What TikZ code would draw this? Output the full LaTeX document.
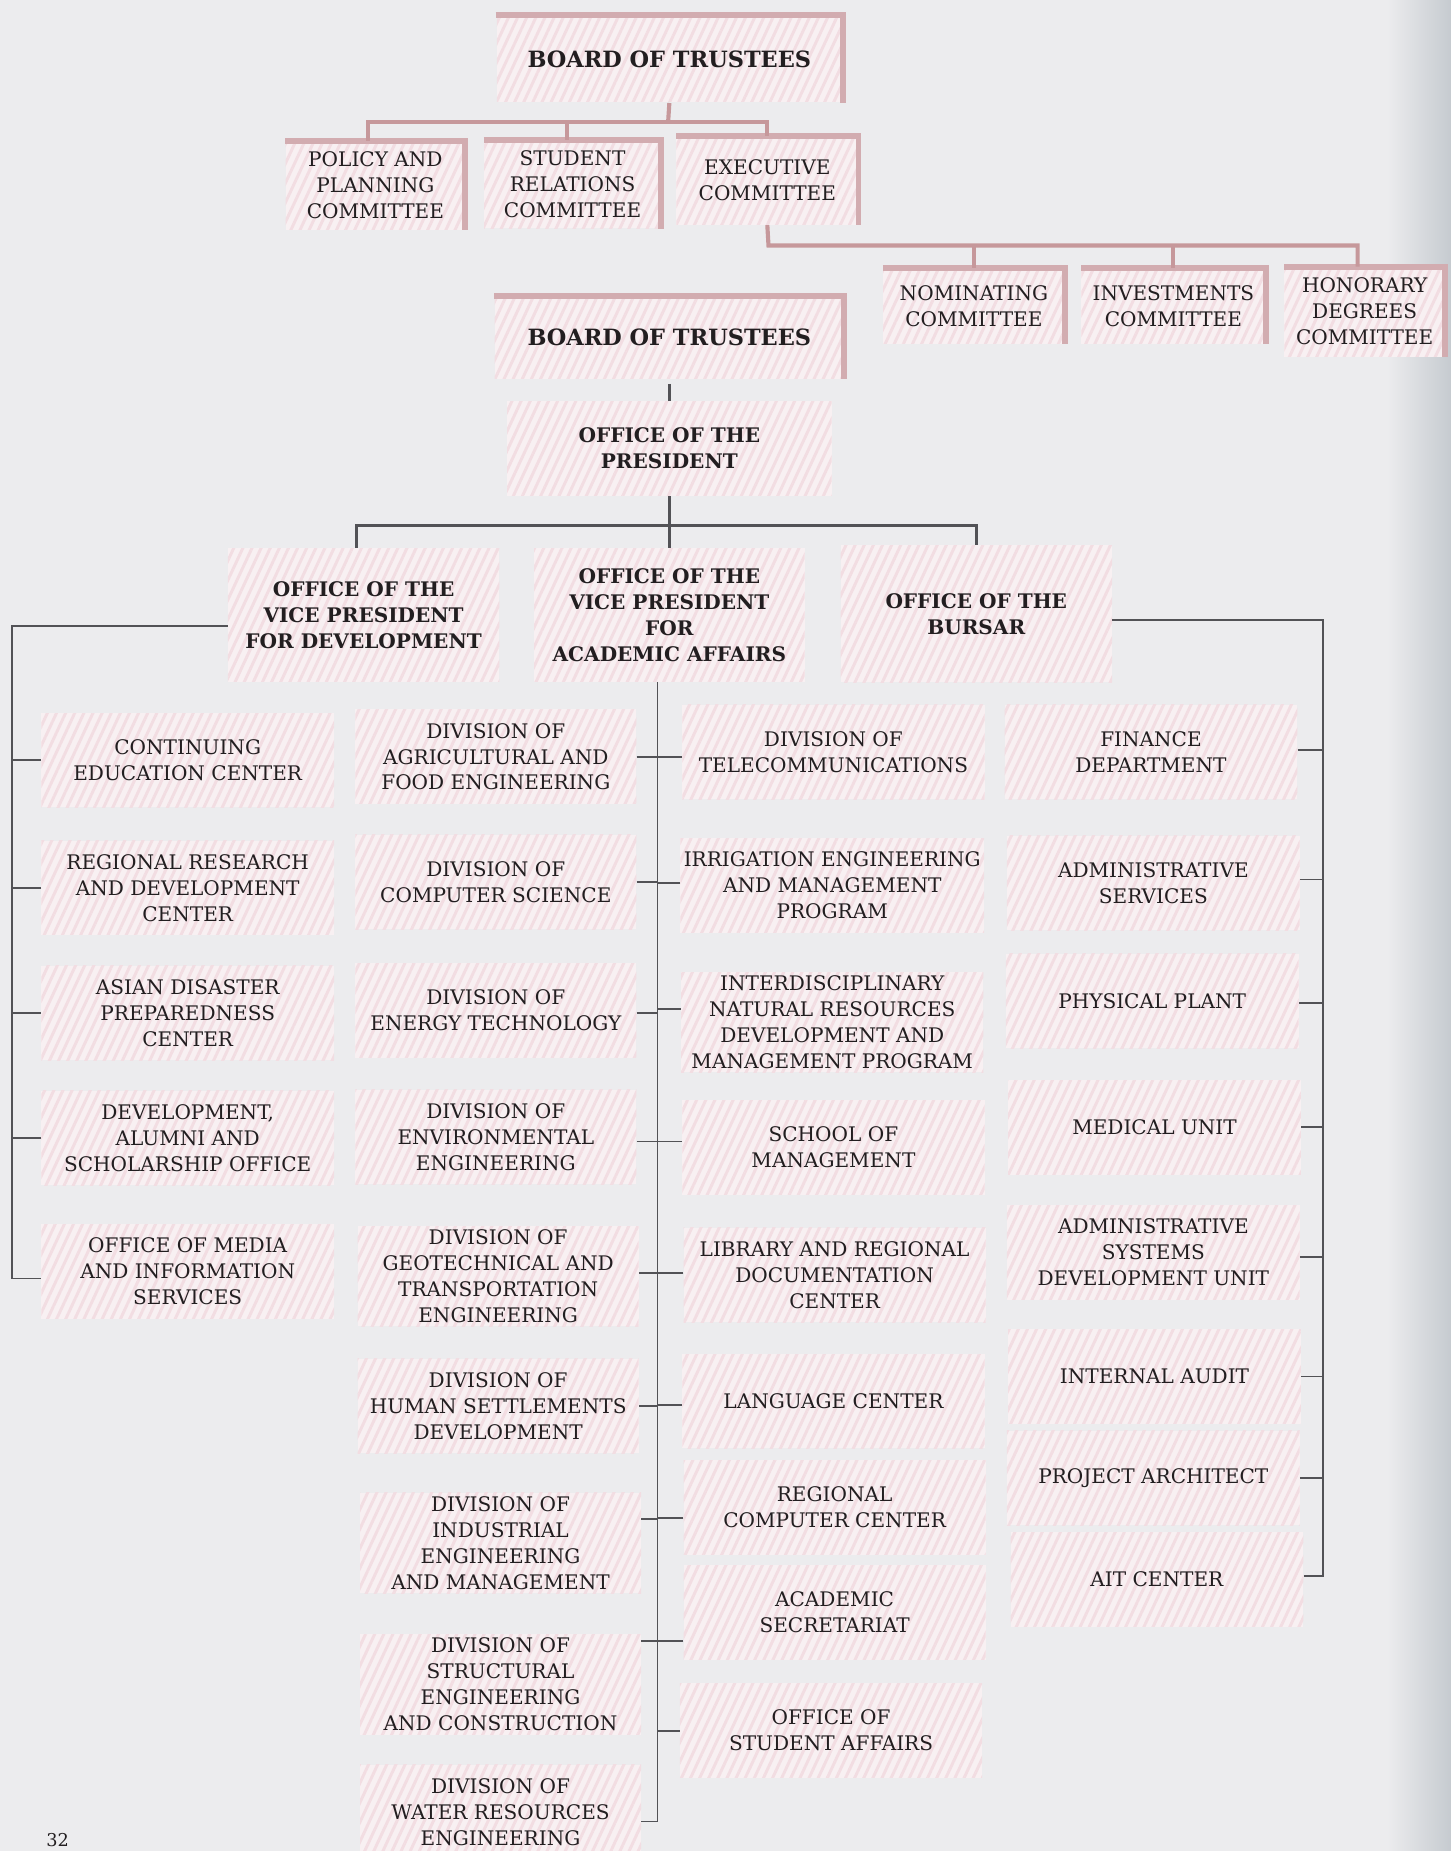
\documentclass[tikz,border=0pt]{standalone}
\usepackage{fontspec}
\setmainfont{DejaVu Serif}
\usetikzlibrary{patterns.meta}

\definecolor{pagebg}{RGB}{236,236,238}
\definecolor{pageedge}{RGB}{198,203,208}
\definecolor{boxbase}{RGB}{248,240,242}
\definecolor{boxstripe}{RGB}{242,221,226}
\definecolor{framepink}{RGB}{210,172,176}
\definecolor{linkpink}{RGB}{198,152,155}
\definecolor{linkgrey}{RGB}{82,82,86}
\definecolor{inkgrey}{RGB}{34,30,32}

\tikzset{
  hatchbox/.style={preaction={fill=boxbase},
    pattern={Lines[angle=65,distance=7pt,line width=2.5pt]},
    pattern color=boxstripe, align=center, text=inkgrey, inner sep=3pt,
    font=\fontsize{17}{22}\selectfont},
  unitbox/.style={hatchbox, minimum width=#1, minimum height=80pt},
  headbox/.style={hatchbox, font=\fontsize{17}{22}\selectfont\bfseries},
  boardbox/.style={hatchbox, font=\fontsize{19}{22}\selectfont\bfseries},
  frameline/.style={draw=framepink, line width=5pt},
  pinklink/.style={draw=linkpink, line width=3.5pt},
  greylink/.style={draw=linkgrey, line width=1.6pt},
  headlink/.style={draw=linkgrey, line width=2.8pt}
}

\begin{document}
\begin{tikzpicture}[x=1pt,y=-1pt]
    %initialisation
    \useasboundingbox[fill=pagebg] (0,0) rectangle (1229,1568);
    \shade[left color=pagebg, right color=pageedge] (1175,0) rectangle (1229,1568);
    %committees
    \node[boardbox, minimum width=292pt, minimum height=72pt] (boardA) at (567,50) {BOARD OF TRUSTEES};
    \node[hatchbox, minimum width=152pt, minimum height=75pt] (policy) at (318,157) {POLICY AND\\PLANNING\\COMMITTEE};
    \node[hatchbox, minimum width=150pt, minimum height=75pt] (student) at (485,156) {STUDENT\\RELATIONS\\COMMITTEE};
    \node[hatchbox, minimum width=154pt, minimum height=75pt] (exec) at (650,153) {EXECUTIVE\\COMMITTEE};
    \node[hatchbox, minimum width=154pt, minimum height=64pt] (nomin) at (825,259) {NOMINATING\\COMMITTEE};
    \node[hatchbox, minimum width=156pt, minimum height=64pt] (invest) at (994,259) {INVESTMENTS\\COMMITTEE};
    \node[hatchbox, minimum width=136pt, minimum height=76pt] (honor) at (1156,264) {HONORARY\\DEGREES\\COMMITTEE};
    %offices
    \node[boardbox, minimum width=296pt, minimum height=70pt] (boardB) at (567,286) {BOARD OF TRUSTEES};
    \node[headbox, minimum width=275pt, minimum height=80pt] (pres) at (567,380) {OFFICE OF THE\\PRESIDENT};
    \node[headbox, minimum width=230pt, minimum height=113pt] (vpdev) at (308,521) {OFFICE OF THE\\VICE PRESIDENT\\FOR DEVELOPMENT};
    \node[headbox, minimum width=229pt, minimum height=113pt] (vpacad) at (567,521) {OFFICE OF THE\\VICE PRESIDENT\\FOR\\ACADEMIC AFFAIRS};
    \node[headbox, minimum width=230pt, minimum height=116pt] (bursar) at (827,520) {OFFICE OF THE\\BURSAR};
    %development units
    \node[unitbox=248pt] (cont) at (159,644) {CONTINUING\\EDUCATION CENTER};
    \node[unitbox=248pt] (regres) at (159,752) {REGIONAL RESEARCH\\AND DEVELOPMENT\\CENTER};
    \node[unitbox=248pt] (asian) at (159,858) {ASIAN DISASTER\\PREPAREDNESS\\CENTER};
    \node[unitbox=248pt] (devalum) at (159,964) {DEVELOPMENT,\\ALUMNI AND\\SCHOLARSHIP OFFICE};
    \node[unitbox=248pt] (media) at (159,1077) {OFFICE OF MEDIA\\AND INFORMATION\\SERVICES};
    %divisions
    \node[unitbox=238pt] (agri) at (420,641) {DIVISION OF\\AGRICULTURAL AND\\FOOD ENGINEERING};
    \node[unitbox=238pt] (compsci) at (420,747) {DIVISION OF\\COMPUTER SCIENCE};
    \node[unitbox=238pt] (energy) at (420,856) {DIVISION OF\\ENERGY TECHNOLOGY};
    \node[unitbox=238pt] (env) at (420,963) {DIVISION OF\\ENVIRONMENTAL\\ENGINEERING};
    \node[unitbox=238pt] (geo) at (422,1081) {DIVISION OF\\GEOTECHNICAL AND\\TRANSPORTATION\\ENGINEERING};
    \node[unitbox=238pt] (human) at (422,1191) {DIVISION OF\\HUMAN SETTLEMENTS\\DEVELOPMENT};
    \node[unitbox=238pt] (indus) at (424,1307) {DIVISION OF\\INDUSTRIAL\\ENGINEERING\\AND MANAGEMENT};
    \node[unitbox=238pt] (struct) at (424,1427) {DIVISION OF\\STRUCTURAL\\ENGINEERING\\AND CONSTRUCTION};
    \node[unitbox=238pt] (water) at (424,1535) {DIVISION OF\\WATER RESOURCES\\ENGINEERING};
    %academic units
    \node[unitbox=256pt] (telecom) at (706,637) {DIVISION OF\\TELECOMMUNICATIONS};
    \node[unitbox=256pt] (irrig) at (705,750) {IRRIGATION ENGINEERING\\AND MANAGEMENT\\PROGRAM};
    \node[unitbox=256pt] (interdisc) at (705,866) {INTERDISCIPLINARY\\NATURAL RESOURCES\\DEVELOPMENT AND\\MANAGEMENT PROGRAM};
    \node[unitbox=256pt] (school) at (706,972) {SCHOOL OF\\MANAGEMENT};
    \node[unitbox=256pt] (library) at (707,1080) {LIBRARY AND REGIONAL\\DOCUMENTATION\\CENTER};
    \node[unitbox=256pt] (language) at (706,1187) {LANGUAGE CENTER};
    \node[unitbox=256pt] (regcomp) at (707,1277) {REGIONAL\\COMPUTER CENTER};
    \node[unitbox=256pt] (acadsec) at (707,1366) {ACADEMIC\\SECRETARIAT};
    \node[unitbox=256pt] (studaff) at (704,1466) {OFFICE OF\\STUDENT AFFAIRS};
    %bursar units
    \node[unitbox=248pt] (finance) at (975,637) {FINANCE\\DEPARTMENT};
    \node[unitbox=248pt] (admserv) at (977,748) {ADMINISTRATIVE\\SERVICES};
    \node[unitbox=248pt] (physplant) at (976,848) {PHYSICAL PLANT};
    \node[unitbox=248pt] (medical) at (978,955) {MEDICAL UNIT};
    \node[unitbox=248pt] (adsys) at (977,1061) {ADMINISTRATIVE\\SYSTEMS\\DEVELOPMENT UNIT};
    \node[unitbox=248pt] (audit) at (978,1166) {INTERNAL AUDIT};
    \node[unitbox=248pt] (project) at (977,1252) {PROJECT ARCHITECT};
    \node[unitbox=248pt] (ait) at (980,1338) {AIT CENTER};
    \node[anchor=south west, inner sep=1pt, text=inkgrey, font=\fontsize{15}{18}\selectfont] (pagenum) at (38,1566) {32};
    %frames
    \foreach \n in {boardA,policy,student,exec,nomin,invest,honor,boardB}
        \draw[frameline] (\n.north west) -- (\n.north east) -- (\n.south east);
    %pink links
    \coordinate (topbus) at (566,103);
    \coordinate (combus) at (651,208);
    \draw[pinklink] (boardA.south) -- (topbus);
    \draw[pinklink] ([xshift=-6pt]policy.north) |- (topbus) -| (exec.north);
    \draw[pinklink] ([xshift=-5pt]student.north) -- ([xshift=-5pt]student.north |- topbus);
    \draw[pinklink] (exec.south) -- (combus) -| ([xshift=-6pt]honor.north);
    \draw[pinklink] (nomin.north) -- (nomin.north |- combus);
    \draw[pinklink] (invest.north) -- (invest.north |- combus);
    %grey links
    \coordinate (presbus) at (566,445);
    \coordinate (devbar) at (10,530);
    \coordinate (bursbar) at (1121,525);
    \coordinate (spinebot) at (557,1543);
    \draw[headlink] ([yshift=-4pt]boardB.south) -- (pres.north);
    \draw[headlink] (pres.south) -- (vpacad.north);
    \draw[headlink] ([xshift=-6pt]vpdev.north) |- (presbus) -| (bursar.north);
    \draw[greylink] ([yshift=-9pt]vpdev.west) -- (devbar) |- ([yshift=-6pt]media.west);
    \foreach \n in {cont,regres,asian,devalum}
        \draw[greylink] (\n.west) -| (devbar);
    \draw[greylink] ([yshift=-5pt]bursar.east) -- (bursbar) |- ([yshift=3pt]ait.east);
    \foreach \n/\d in {finance/2,admserv/3,physplant/-2,medical/0,adsys/-4,audit/0,project/0}
        \draw[greylink] ([yshift=\d pt]\n.east) -| (bursbar);
    \draw[greylink] (vpacad.south -| spinebot) -- (spinebot) -- ([yshift=-8pt]water.east);
    \foreach \n/\d in {agri/0,compsci/0,energy/-2,env/-4,geo/3,human/0,indus/20,struct/37}
        \draw[greylink] ([yshift=\d pt]\n.east) -| (spinebot);
    \foreach \n/\d in {telecom/-4,irrig/2,interdisc/11,school/5,library/2,language/-3,regcomp/-9,acadsec/-24,studaff/0}
        \draw[greylink] ([yshift=\d pt]\n.west) -| (spinebot);
\end{tikzpicture}
\end{document}
